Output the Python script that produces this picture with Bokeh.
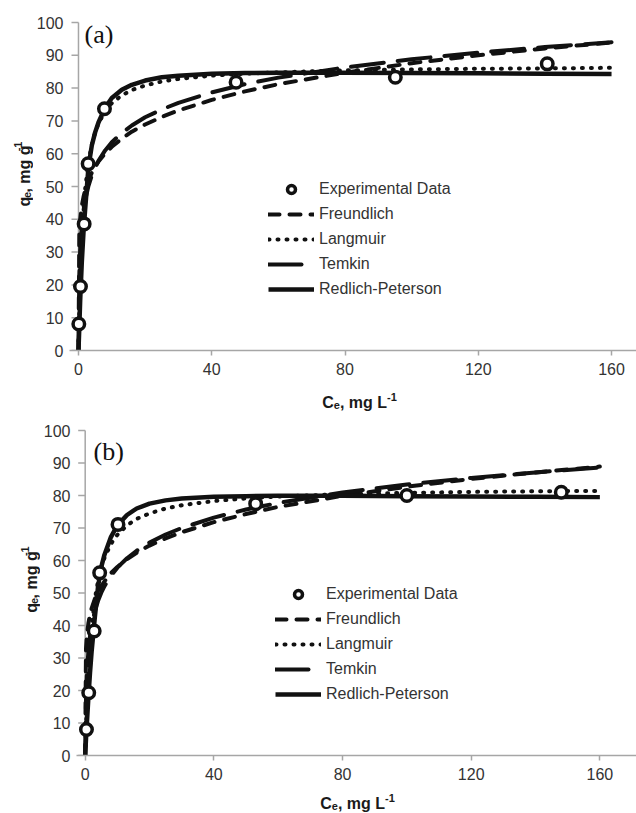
import numpy as np
from bokeh.plotting import figure
from bokeh.models import Range1d, FixedTicker, Label, Legend, LegendItem
from bokeh.layouts import column, row
from bokeh.embed import file_html
from bokeh.resources import INLINE

# ---------------- data ----------------
fit_c = [0, 0.25, 0.5, 1, 1.5, 2, 3, 4, 5, 6, 8, 10, 13, 16, 20, 25, 30,
         40, 50, 60, 80, 100, 120, 140, 160]

# panel (a)
a_exp_c = [0.1, 0.6, 1.7, 2.9, 7.8, 47.3, 95.1, 140.7]
a_exp_q = [8.1, 19.5, 38.6, 56.9, 73.7, 81.8, 83.3, 87.4]
a_freundlich = [0, 35.9, 39.8, 44.1, 46.8, 48.9, 51.9, 54.2, 56.0, 57.6, 60.1, 62.1, 64.6,
                66.7, 68.9, 71.2, 73.2, 76.4, 79.0, 81.2, 84.7, 87.6, 90.0, 92.1, 93.9]
a_langmuir = [0, 12.2, 21.3, 34.3, 42.9, 49.2, 57.5, 62.8, 66.5, 69.2, 73.0, 75.4, 77.8,
              79.4, 80.8, 82.0, 82.8, 83.8, 84.4, 84.8, 85.4, 85.7, 85.9, 86.0, 86.2]
a_temkin = [0, 22.9, 30.5, 38.1, 42.6, 45.8, 50.2, 53.4, 55.8, 57.8, 61.0, 63.5, 66.3,
            68.6, 71.1, 73.5, 75.5, 78.7, 81.2, 83.2, 86.3, 88.8, 90.8, 92.5, 94.0]
a_redlich = [0, 7, 15, 27, 36, 43, 56, 62.5, 66.5, 69.5, 74, 77, 79.5,
             81, 82.3, 83.3, 83.8, 84.4, 84.6, 84.7, 84.7, 84.6, 84.5, 84.4, 84.3]

# panel (b)
b_exp_c = [0.4, 1.1, 2.8, 4.5, 10.2, 53.0, 100.0, 148.0]
b_exp_q = [8.0, 19.3, 38.3, 56.2, 71.1, 77.5, 80.0, 81.0]
b_freundlich = [0, 32.9, 36.6, 40.7, 43.3, 45.3, 48.2, 50.4, 52.1, 53.6, 56.1, 58.0, 60.4,
                62.4, 64.6, 66.8, 68.7, 71.8, 74.3, 76.5, 79.9, 82.7, 85.1, 87.1, 88.9]
b_langmuir = [0, 8.6, 15.6, 26.3, 34.0, 39.8, 48.1, 53.7, 57.8, 60.8, 65.1, 67.9, 70.8,
              72.8, 74.5, 76.0, 77.0, 78.3, 79.1, 79.7, 80.4, 80.8, 81.1, 81.3, 81.4]
b_temkin = [0, 16.9, 24.6, 32.2, 36.7, 39.9, 44.4, 47.6, 50.1, 52.1, 55.3, 57.8, 60.7,
            63.0, 65.5, 68.0, 70.0, 73.2, 75.7, 77.7, 80.9, 83.4, 85.4, 87.1, 88.6]
b_redlich = [0, 5, 9.5, 18, 25.5, 32, 42.5, 52, 58, 61.8, 67.2, 70.8, 74,
             76, 77.5, 78.5, 79.1, 79.6, 79.8, 79.9, 79.9, 79.8, 79.7, 79.6, 79.5]

x_ticks = [0, 40, 80, 120, 160]
y_ticks = [0, 10, 20, 30, 40, 50, 60, 70, 80, 90, 100]
series_names = ["Experimental Data", "Freundlich", "Langmuir", "Temkin", "Redlich-Peterson"]

INK = "#111111"
AXIS = "#a6a6a6"
TXT = "#333333"
SANS = "Liberation Sans"
PAGE_RIGHT = 636


def blank_fig(w, h):
    """A figure whose frame is the whole canvas, y measured downward in px."""
    f = figure(width=w, height=h, x_range=Range1d(0, w), y_range=Range1d(h, 0),
               output_backend="svg", toolbar_location=None,
               x_axis_location=None, y_axis_location=None,
               min_border_left=0, min_border_right=0, min_border_top=0, min_border_bottom=0,
               background_fill_color="white", border_fill_color="white")
    f.outline_line_color = None
    for gr in f.grid:
        gr.visible = False
    return f


def piece(f, x, y, text, size, angle=0.0):
    f.add_layout(Label(x=x, y=y, text=text, text_font=SANS,
                       text_font_size=f"{size}px", text_font_style="bold",
                       text_color="#1a1a1a", text_align="left",
                       text_baseline="alphabetic", angle=angle))


def x_title(h, page_top, cx, base):
    f = blank_fig(PAGE_RIGHT, h)
    widths = [0.722 * 16, 0.556 * 11, 2.945 * 16, 0.889 * 11]
    xs = np.cumsum([cx - sum(widths) / 2] + widths[:-1])
    b = base - page_top
    piece(f, xs[0], b, "C", 16)
    piece(f, xs[1], b + 2.5, "e", 11)
    piece(f, xs[2], b, ", mg L", 16)
    piece(f, xs[3], b - 6, "-1", 11)
    return f


def y_title(w, h, page_top, cy, bx):
    f = blank_fig(w, h)
    widths = [0.611 * 16, 0.556 * 11, 2.945 * 16, 0.889 * 11]
    ys = (cy + sum(widths) / 2) - np.cumsum([0] + widths[:-1]) - page_top
    a = np.pi / 2
    piece(f, bx, ys[0], "q", 16, a)
    piece(f, bx + 3, ys[1], "e", 11, a)
    piece(f, bx, ys[2], ", mg g", 16, a)
    piece(f, bx - 6, ys[3], "-1", 11, a)
    return f


def make_panel(tag, exp_c, exp_q, fr, la, te, rp, g):
    H = g["height"]
    sx, sy = g["sx"], g["sy"]
    x0, y0 = g["x0"], g["y0"]
    fl, ft = g["frame_left"], g["frame_top"]
    W = PAGE_RIGHT - g["fig_left"]
    xstart = -(x0 - fl) / sx
    xend = xstart + (PAGE_RIGHT - fl) / sx
    yend = (y0 - ft) / sy
    bt = ft - g["top"]
    bb = H - bt - (y0 - ft)

    p = figure(width=W, height=H, x_range=Range1d(xstart, xend), y_range=Range1d(0, yend),
               output_backend="svg", toolbar_location=None,
               min_border_left=fl - g["fig_left"], min_border_right=0,
               min_border_top=bt, min_border_bottom=bb,
               background_fill_color="white", border_fill_color="white")
    p.outline_line_color = None
    p.xgrid.visible = False
    p.ygrid.visible = False

    for ax in (p.xaxis[0], p.yaxis[0]):
        ax.minor_tick_line_color = None
        ax.major_tick_in = 0
        ax.major_label_text_font = SANS
        ax.major_label_text_font_size = "16px"
        ax.major_label_text_color = TXT
    p.xaxis.ticker = FixedTicker(ticks=x_ticks)
    p.yaxis.ticker = FixedTicker(ticks=y_ticks)
    p.xaxis.axis_line_color = AXIS
    p.xaxis.axis_line_width = 1.5
    p.xaxis.major_tick_line_color = AXIS
    p.xaxis.major_tick_line_width = 1.5
    p.xaxis.major_tick_out = 5
    p.xaxis.major_label_standoff = 7
    # library y axis: labels only; its line and ticks are drawn at x = 0 below
    p.yaxis.axis_line_color = None
    p.yaxis.major_tick_line_color = None
    p.yaxis.major_tick_out = 0
    p.yaxis.major_label_standoff = 6

    tick_len = 7 / sx
    p.segment(x0=[0], y0=[0], x1=[0], y1=[100], line_color=AXIS, line_width=1.5)
    p.segment(x0=[-tick_len] * len(y_ticks), x1=[0] * len(y_ticks), y0=y_ticks, y1=y_ticks,
              line_color=AXIS, line_width=1.5)

    r_f = p.line(fit_c, fr, line_color=INK, line_width=4, line_dash="11 10", line_cap="round")
    r_l = p.line(fit_c, la, line_color=INK, line_width=4, line_dash="1 8", line_cap="round")
    r_t = p.line(fit_c, te, line_color=INK, line_width=4, line_dash="33 14", line_cap="round")
    r_r = p.line(fit_c, rp, line_color=INK, line_width=4.5, line_join="round")
    r_e = p.scatter(exp_c, exp_q, marker="circle", size=11.5, line_width=3.5,
                    line_color=INK, fill_color="white")

    legend = Legend(items=[LegendItem(label=n, renderers=[r]) for n, r in
                           zip(series_names, [r_e, r_f, r_l, r_t, r_r])],
                    location=(199, 51), padding=0, margin=0, spacing=5,
                    label_standoff=5, glyph_width=46, glyph_height=20, label_height=20,
                    border_line_color=None, background_fill_alpha=0,
                    label_text_font=SANS, label_text_font_size="16px",
                    label_text_color=TXT)
    p.add_layout(legend)

    p.add_layout(Label(x=(g["tag_x"] - x0) / sx, y=(y0 - g["tag_base"]) / sy, text=tag,
                       text_font="Liberation Serif", text_font_size="26px",
                       text_color=INK, text_align="left", text_baseline="alphabetic"))
    return p


# page geometry (px from the page's top-left corner)
geo_a = dict(height=384, top=0, fig_left=33, sx=3.3375, sy=3.28, x0=77, y0=350,
             frame_left=68, frame_top=14, tag_x=83, tag_base=34)
geo_b = dict(height=370, top=416, fig_left=40, sx=3.2225, sy=3.25, x0=83.7, y0=755,
             frame_left=75, frame_top=422, tag_x=92, tag_base=450.5)

pa = make_panel("(a)", a_exp_c, a_exp_q, a_freundlich, a_langmuir, a_temkin, a_redlich, geo_a)
pb = make_panel("(b)", b_exp_c, b_exp_q, b_freundlich, b_langmuir, b_temkin, b_redlich, geo_b)

ya = y_title(33, 384, 0, 183, 23.5)
yb = y_title(40, 370, 416, 591, 30.5)
xa = x_title(32, 384, 359, 402)
xb = x_title(27, 786, 357, 803)

layout = column(row(ya, pa, spacing=0), xa, row(yb, pb, spacing=0), xb, spacing=0)
open("out.html", "w").write(file_html(layout, INLINE))
